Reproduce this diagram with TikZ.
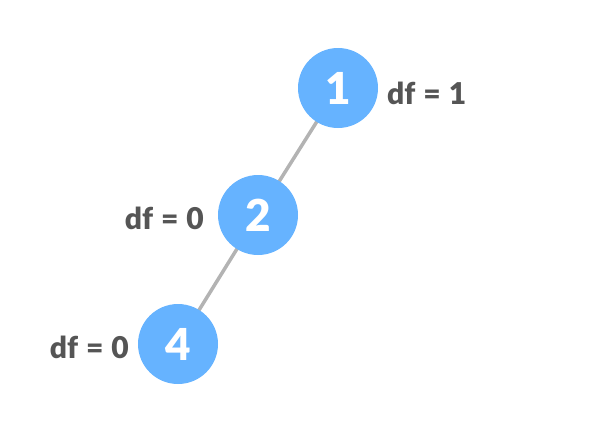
\documentclass[tikz,border=0pt]{standalone}
\usepackage{fontspec}
\setmainfont{Lato}
\newfontfamily\latoheavy{Lato Black}
\newfontfamily\latolabel{Lato Black}[WordSpace=1.15]
\usetikzlibrary{backgrounds}
\definecolor{nodeblue}{HTML}{66B3FF}
\definecolor{edgegray}{HTML}{B3B3B3}
\definecolor{labelgray}{HTML}{555555}
\begin{document}
\begin{tikzpicture}[x=1pt,y=-1pt,
  vertex/.style={circle,fill=nodeblue,minimum size=80pt,inner sep=0pt,
    text=white,font=\fontsize{44}{44}\selectfont\latoheavy},
  dflabel/.style={text=labelgray,font=\fontsize{30}{30}\selectfont\latolabel,inner sep=0pt},
  edge/.style={draw=edgegray,line width=3.5pt}]
\useasboundingbox (0,0) rectangle (596,428);
\node[vertex] (n1) at (338,88) {1};
\node[vertex] (n2) at (258,215) {2};
\node[vertex] (n4) at (178,344) {4};
\node[dflabel,anchor=west] (l1) at (387,93.5) {df = 1};
\node[dflabel,anchor=east] (l2) at (204,218) {df = 0};
\node[dflabel,anchor=east] (l4) at (129,347) {df = 0};
% tree edges behind the vertices
\begin{pgfonlayer}{background}
\draw[edge] (n1.center) -- (n2.center);
\draw[edge] (n2.center) -- (n4.center);
\end{pgfonlayer}
\end{tikzpicture}
\end{document}
